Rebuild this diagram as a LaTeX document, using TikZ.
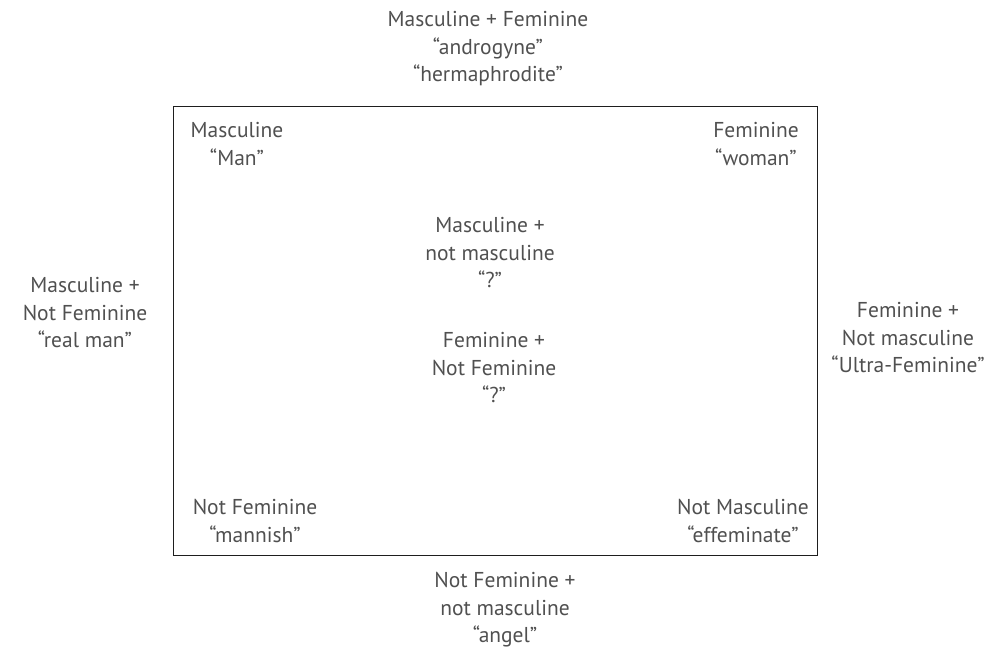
\documentclass[tikz,border=0pt]{standalone}
\usepackage{fontspec}
\setmainfont{PT Sans}
\usepackage{xcolor}
\usetikzlibrary{positioning}
\definecolor{textgray}{HTML}{505050}
\definecolor{framegray}{HTML}{1E1E1E}
\tikzset{%
	square/.style   = {draw=framegray, line width=1.8pt, rectangle, minimum width=644pt, minimum height=449pt}, % Frame
	term/.style     = {text=textgray, align=center, inner sep=0pt, font=\fontsize{21.5}{27.5}\selectfont}, % Label
}

\begin{document}
\begin{tikzpicture}[x=1pt,y=-1pt]
	\useasboundingbox (0,0) rectangle (998,652);
	\node[square] (box) at (495.5,331) {};
	
	\node[term] (both) at (488,49) {Masculine + Feminine\\``androgyne''\\``hermaphrodite''};
	\node[term] (realman) at (85,313) {Masculine +\\Not Feminine\\``real man''};
	\node[term] (ultra) at (908,338) {Feminine +\\Not masculine\\``Ultra-Feminine''};
	\node[term] (neither) at (505,610) {Not Feminine +\\not masculine\\``angel''};
	
	\node[term] (man) at (237,144) {Masculine\\``Man''};
	\node[term] (woman) at (756,144) {Feminine\\``woman''};
	\node[term] (mannish) at (255,521) {Not Feminine\\``mannish''};
	\node[term] (effem) at (743,521) {Not Masculine\\``effeminate''};
	
	\node[term] (qmasc) at (490,253) {Masculine +\\not masculine\\``?''};
	\node[term] (qfem) at (494,368) {Feminine +\\Not Feminine\\``?''};
\end{tikzpicture}
\end{document}
